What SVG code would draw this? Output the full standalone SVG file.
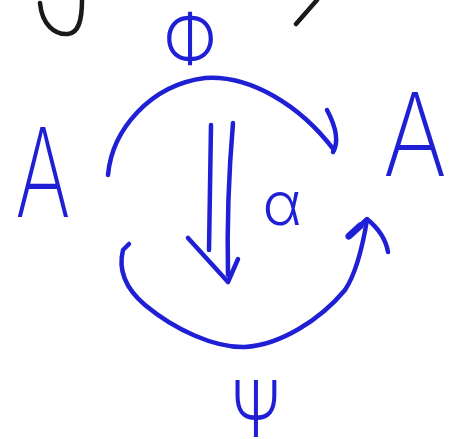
<svg xmlns="http://www.w3.org/2000/svg" width="456" height="439" viewBox="0 0 456 439">
<style>
.s{fill:none;stroke:#1f1fd6;stroke-width:4.5;stroke-linecap:round;stroke-linejoin:round}
.k{fill:none;stroke:#1a1a1a;stroke-width:4.5;stroke-linecap:round}
.t{fill:#1f1fd6;font-family:Inter,"DejaVu Sans","Liberation Sans",sans-serif;font-weight:300;text-anchor:middle}
.a{font-weight:200}
</style>
<rect width="456" height="439" fill="#ffffff"/>
<g id="fragments">
<path class="k" d="M40,3 C42,25 55,35 68,34 C78,33 82,22 82,0"/>
<path class="k" d="M317,0 L296,24"/>
</g>
<g id="nodeA1"><text class="t a" transform="translate(43,217) scale(0.68,1)" font-size="124">A</text></g>
<g id="nodeA2"><text class="t a" transform="translate(415,176) scale(0.84,1)" font-size="116">A</text></g>
<g id="connectors">
<g id="phi">
<path class="s" d="M108,175 C112,130 150,85 205,78 C250,75 300,105 334,150"/>
<path class="s" d="M327,110 C335,125 340,140 333,152"/>
<text class="t" transform="translate(190,63) scale(0.9,1)" font-size="68">Φ</text>
</g>
<g id="psi">
<path class="s" d="M129,244 L123,250 C118,270 125,288 145,305 C175,330 215,348 245,347 C280,345 320,320 345,290 C355,275 362,250 367,220"/>
<path class="s" d="M348,237 L367,219 C378,228 386,240 388,252"/>
<path class="s" style="stroke-width:7" d="M349,236 L360,226"/>
<text class="t" transform="translate(256,437) scale(0.77,1)" font-size="78">Ψ</text>
</g>
<g id="alpha">
<path class="s" d="M211,125 L209,250"/>
<path class="s" d="M233,123 C229,170 227,230 228,275"/>
<path class="s" d="M188,238 L228,282 L238,259"/>
<text class="t" x="282" y="225" font-size="60">α</text>
</g>
</g>
</svg>
